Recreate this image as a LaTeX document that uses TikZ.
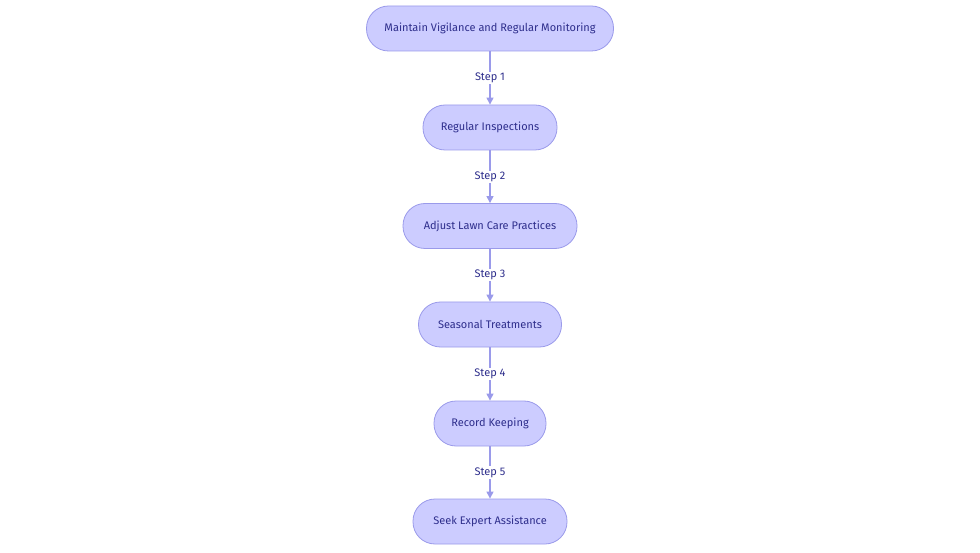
\documentclass[tikz,border=0pt]{standalone}
\usepackage{fontspec}
\setmainfont{Fira Sans}
\usetikzlibrary{arrows.meta}
\definecolor{nfill}{HTML}{CCCCFF}
\definecolor{nline}{HTML}{9A9AEA}
\definecolor{ntext}{HTML}{2E2E8C}
\tikzset{
  box/.style={draw=nline, fill=nfill, rounded corners=22pt, minimum height=45pt, text=ntext, font=\fontsize{11}{13}\selectfont, inner xsep=16pt, line width=0.8pt},
  conn/.style={draw=nline, line width=1.2pt, -{Triangle[length=7pt,width=7pt]}},
  lbl/.style={fill=white, text=ntext, font=\fontsize{11}{13}\selectfont, inner sep=1pt}
}
\begin{document}
\begin{tikzpicture}[x=1pt,y=-1pt]
\useasboundingbox (0,0) rectangle (980,553);
\node[box, minimum width=247pt] (a) at (490,28.5) {Maintain Vigilance and Regular Monitoring};
\node[box, minimum width=134pt] (b) at (490,127.5) {Regular Inspections};
\node[box, minimum width=174pt] (c) at (490,226) {Adjust Lawn Care Practices};
\node[box, minimum width=143pt] (d) at (490,324.5) {Seasonal Treatments};
\node[box, minimum width=112pt] (e) at (490,423.5) {Record Keeping};
\node[box, minimum width=154pt] (f) at (490,521.5) {Seek Expert Assistance};
\draw[conn] (a) -- node[lbl] {Step 1} (b);
\draw[conn] (b) -- node[lbl] {Step 2} (c);
\draw[conn] (c) -- node[lbl] {Step 3} (d);
\draw[conn] (d) -- node[lbl] {Step 4} (e);
\draw[conn] (e) -- node[lbl] {Step 5} (f);
\end{tikzpicture}
\end{document}
